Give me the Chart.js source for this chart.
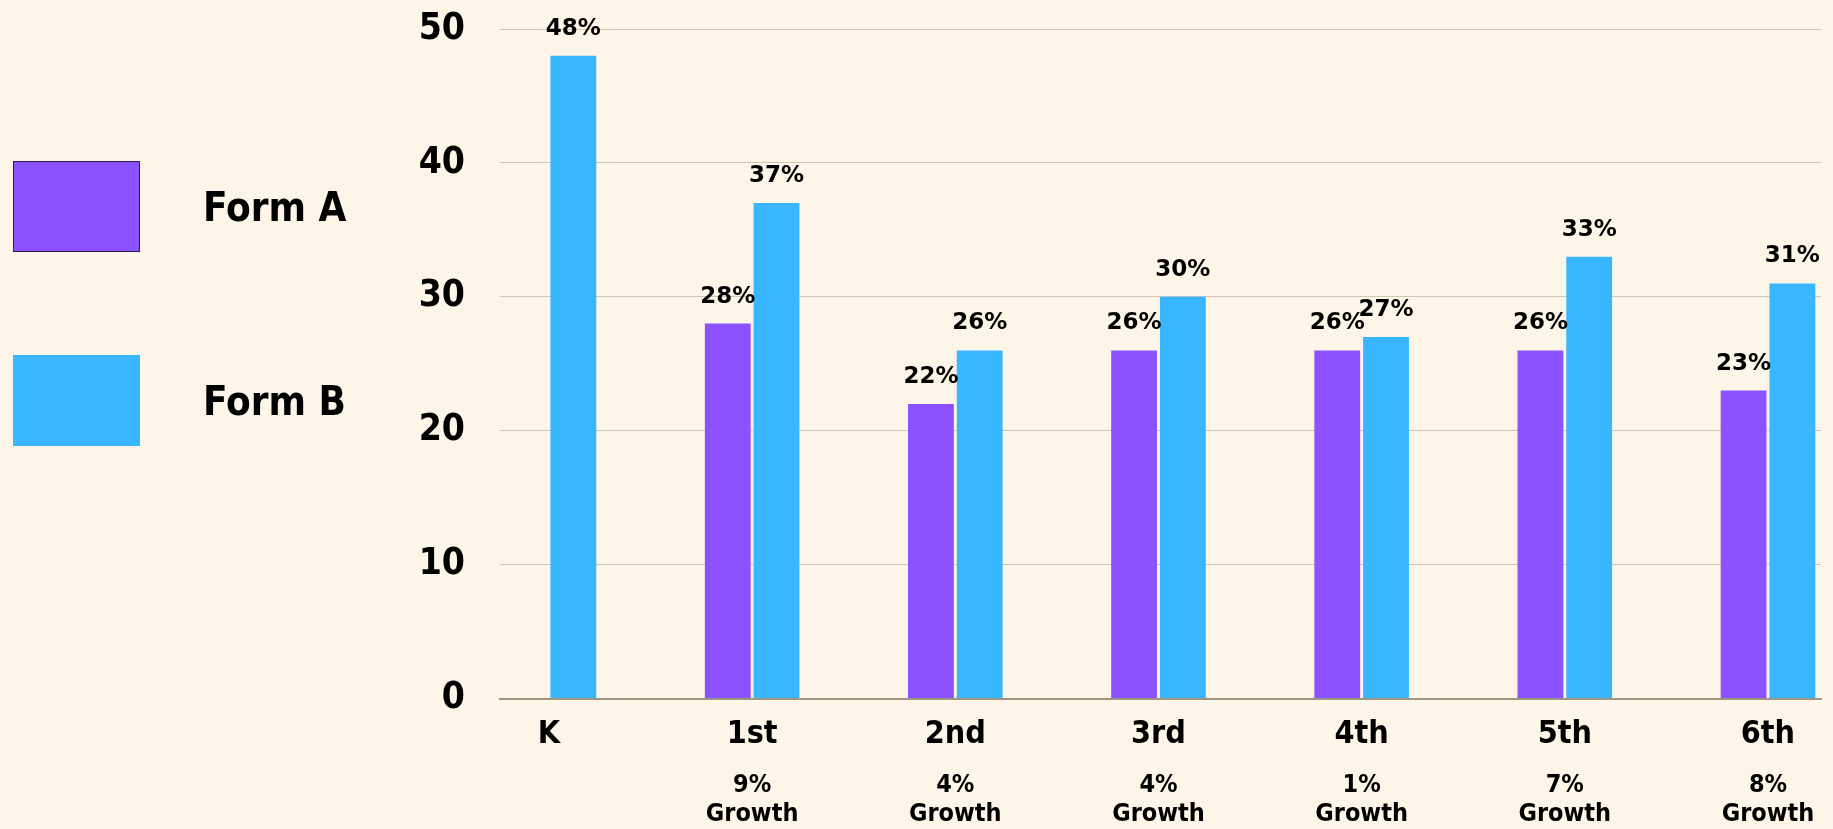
<!DOCTYPE html>
<html>
<head>
<meta charset="utf-8">
<script src="https://cdn.jsdelivr.net/npm/chart.js@4.4.0/dist/chart.umd.min.js"></script>
<style>
  html, body { margin: 0; padding: 0; background: #fdf6e8; }
  .wrap { position: relative; width: 1833px; height: 829px; }
  .legend { position: absolute; left: 13px; top: 161px; display: flex; flex-direction: column; gap: 103px; }
  .legend-item { display: flex; align-items: center; }
  .legend-box { width: 127px; height: 91px; box-sizing: border-box; }
  .legend-text { margin-left: 63px; font: bold 40px "Liberation Sans Narrow", "DejaVu Sans Condensed", sans-serif; color: #000; }
</style>
</head>
<body>
<div class="wrap">
  <canvas id="chart"></canvas>
  <div class="legend" id="legend"></div>
</div>
<script>
// grade levels along the x axis
const grades = ['K', '1st', '2nd', '3rd', '4th', '5th', '6th'];
// percent scores per form (K only has Form B)
const formA = [null, 28, 22, 26, 26, 26, 23];
const formB = [48, 37, 26, 30, 27, 33, 31];
// growth shown under each grade
const growth = [null, 9, 4, 4, 1, 7, 8];
const yTicks = [0, 10, 20, 30, 40, 50];

const purple = '#8c52ff';
const blue = '#38b6ff';

const toPoints = arr => arr.map((v, i) => ({ x: i, y: v }));

// draws the "48%" style labels over each bar
const barLabels = {
    id: 'barLabels',
    afterDatasetsDraw(chart) {
        const ctx = chart.ctx;
        ctx.save();
        ctx.font = 'bold 23px "DejaVu Sans", sans-serif';
        ctx.fillStyle = '#000';
        ctx.textAlign = 'center';
        ctx.textBaseline = 'middle';
        chart.data.datasets.forEach((ds, di) => {
            const meta = chart.getDatasetMeta(di);
            meta.data.forEach((bar, i) => {
                const v = ds.data[i].y;
                if (v == null) return;
                ctx.fillText(v + '%', bar.x, bar.y - 27);
            });
        });
        ctx.restore();
    }
};

const xRange = { min: -0.241, max: 6.261, offset: false };

const chart = new Chart(document.getElementById('chart'), {
    type: 'bar',
    data: {
        datasets: [
            { label: 'Form A', data: toPoints(formA), backgroundColor: purple, borderColor: '#2b1b4d' },
            { label: 'Form B', data: toPoints(formB), backgroundColor: blue, borderColor: blue },
        ],
    },
    options: {
        responsive: true,
        maintainAspectRatio: false,
        animation: false,
        categoryPercentage: 0.48,
        barPercentage: 0.94,
        layout: { padding: { top: 29, right: 12, bottom: 0, left: 0 } },
        plugins: { legend: { display: false }, tooltip: { enabled: false } },
        scales: {
            x: {
                type: 'linear',
                position: 'bottom',
                ...xRange,
                grid: { display: false, drawTicks: false },
                border: { display: true, color: '#a09483', width: 2 },
                ticks: {
                    stepSize: 1,
                    includeBounds: false,
                    autoSkip: false,
                    maxRotation: 0,
                    padding: 17,
                    color: '#000',
                    font: { family: '"DejaVu Sans Condensed", sans-serif', weight: 'bold', size: 32 },
                    callback: v => Number.isInteger(v) ? grades[v] : '',
                },
            },
            growth: {
                type: 'linear',
                position: 'bottom',
                ...xRange,
                grid: { display: false, drawTicks: false },
                border: { display: false },
                ticks: {
                    stepSize: 1,
                    includeBounds: false,
                    autoSkip: false,
                    maxRotation: 0,
                    padding: 0,
                    color: '#000',
                    font: { family: '"DejaVu Sans Condensed", sans-serif', weight: 'bold', size: 25, lineHeight: 1.16 },
                    callback: v => (Number.isInteger(v) && growth[v] != null) ? [growth[v] + '%', 'Growth'] : '',
                },
            },
            y: {
                min: yTicks[0],
                max: yTicks[yTicks.length - 1],
                afterFit: s => { s.width = 500; },
                grid: { color: '#cfc6b6', lineWidth: 1, drawTicks: true, tickLength: 29, tickColor: 'rgba(0,0,0,0)' },
                border: { display: false },
                ticks: {
                    stepSize: 10,
                    padding: 6,
                    color: '#000',
                    font: { family: '"DejaVu Sans Condensed", sans-serif', weight: 'bold', size: 37 },
                },
            },
        },
    },
    plugins: [barLabels],
});

// html legend built from the datasets
const legendEl = document.getElementById('legend');
chart.data.datasets.forEach((ds, i) => {
    const item = document.createElement('div');
    item.className = 'legend-item';
    const box = document.createElement('div');
    box.className = 'legend-box';
    box.style.background = ds.backgroundColor;
    box.style.border = '1.5px solid ' + ds.borderColor;
    const text = document.createElement('span');
    text.className = 'legend-text';
    text.textContent = ds.label;
    item.appendChild(box);
    item.appendChild(text);
    legendEl.appendChild(item);
});
</script>
</body>
</html>
